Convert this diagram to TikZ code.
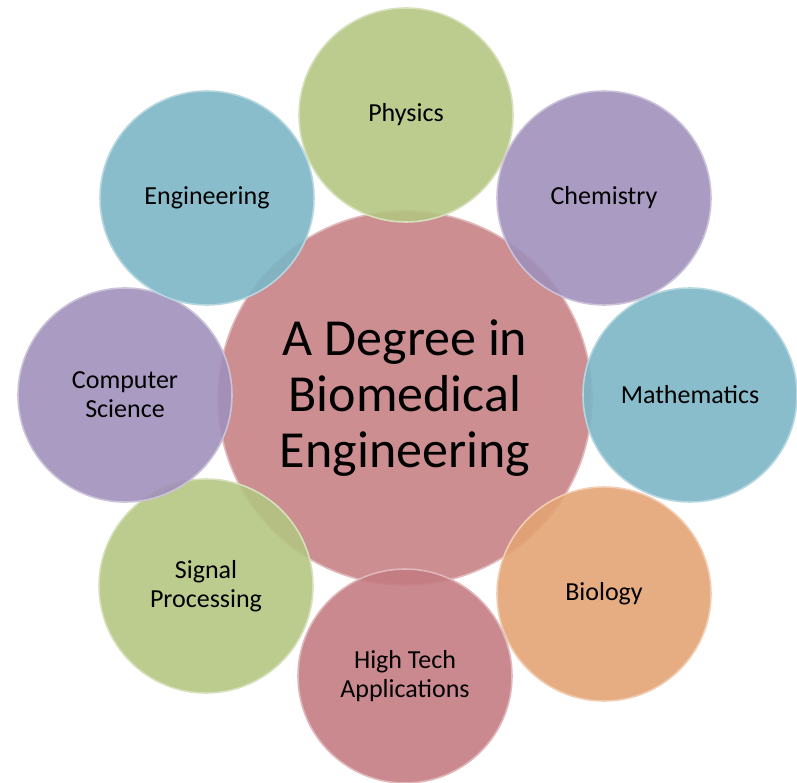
\documentclass[tikz,border=0pt]{standalone}
\usepackage{fontspec}
\setmainfont{Carlito}
\usetikzlibrary{positioning}
\definecolor{rosefill}{RGB}{198,130,132}
\definecolor{greenfill}{RGB}{180,198,130}
\definecolor{purplefill}{RGB}{160,144,186}
\definecolor{tealfill}{RGB}{124,182,199}
\definecolor{orangefill}{RGB}{228,164,116}
\definecolor{redfill}{RGB}{196,124,130}
\tikzset{x=1pt, y=-1pt,
  bubble/.style={circle, minimum size=214pt, inner sep=0pt, align=center,
    font=\fontsize{26}{29}\selectfont, fill opacity=0.9, text opacity=1,
    line width=1.6pt},
  hub/.style={bubble, minimum size=374pt, font=\fontsize{52}{56}\selectfont}}

\begin{document}
\begin{tikzpicture}
  \useasboundingbox (0,0) rectangle (797,783);

  \node[hub, fill=rosefill, draw=rosefill!55!white] (deg) at (405,398)
       {A Degree in\\Biomedical\\Engineering};

  \node[bubble, fill=greenfill, draw=greenfill!55!white] (phys) at (406,115) {Physics};
  \node[bubble, fill=purplefill, draw=purplefill!55!white] (chem) at (604,198) {Chemistry};
  \node[bubble, fill=tealfill, draw=tealfill!55!white] (math) at (690,395) {Mathematics};
  \node[bubble, fill=orangefill, draw=orangefill!55!white] (bio) at (604,594) {Biology};
  \node[bubble, fill=redfill, draw=redfill!55!white] (tech) at (405,676) {High Tech\\Applications};
  \node[bubble, fill=greenfill, draw=greenfill!55!white] (sig) at (206,586) {Signal\\Processing};
  \node[bubble, fill=purplefill, draw=purplefill!55!white] (comp) at (125,395) {Computer\\Science};
  \node[bubble, fill=tealfill, draw=tealfill!55!white] (eng) at (207,198) {Engineering};

\end{tikzpicture}
\end{document}
